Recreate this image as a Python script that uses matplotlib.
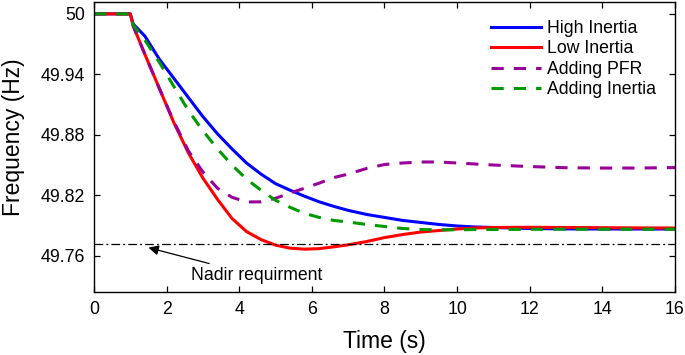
import matplotlib
matplotlib.use("Agg")
from matplotlib import pyplot as plt

plt.rcParams['font.family'] = ['Liberation Sans', 'DejaVu Sans']

# time (s)
t = [0, 1.0, 1.08, 1.4, 1.8, 2.2, 2.6, 3.0, 3.4, 3.8, 4.2, 4.6, 5.0, 5.4, 5.8, 6.2,
     6.6, 7.0, 7.5, 8.0, 8.5, 9.0, 9.5, 10.0, 10.5, 11.0, 12.0, 13.0, 14.0, 15.0, 16.0]

# frequency (Hz)
high_inertia = [50.0, 50.0, 49.990, 49.978, 49.955, 49.936, 49.917, 49.898, 49.881, 49.866,
                49.852, 49.841, 49.8315, 49.825, 49.819, 49.8135, 49.809, 49.805, 49.801,
                49.798, 49.795, 49.793, 49.791, 49.7895, 49.7885, 49.788, 49.787, 49.7866,
                49.7865, 49.7865, 49.7865]
low_inertia = [50.0, 50.0, 49.988, 49.960, 49.926, 49.892, 49.862, 49.837, 49.816, 49.797,
               49.784, 49.776, 49.7705, 49.7675, 49.7665, 49.767, 49.7688, 49.7708, 49.774,
               49.778, 49.781, 49.7835, 49.785, 49.7865, 49.7875, 49.788, 49.7882, 49.788,
               49.7878, 49.7876, 49.7875]
adding_pfr = [50.0, 50.0, 49.988, 49.960, 49.926, 49.893, 49.864, 49.843, 49.827, 49.818,
              49.8133, 49.8135, 49.817, 49.8222, 49.827, 49.832, 49.8375, 49.841, 49.8465,
              49.8505, 49.852, 49.853, 49.853, 49.852, 49.851, 49.850, 49.8485, 49.8473,
              49.847, 49.847, 49.8475]
adding_inertia = [50.0, 50.0, 49.989, 49.974, 49.952, 49.928, 49.904, 49.884, 49.866, 49.850,
                  49.836, 49.825, 49.815, 49.808, 49.802, 49.798, 49.795, 49.7935, 49.791,
                  49.789, 49.787, 49.786, 49.7857, 49.7857, 49.786, 49.786, 49.7862, 49.7863,
                  49.7863, 49.7863, 49.7863]

nadir = 49.772
xticks = [0, 2, 4, 6, 8, 10, 12, 14, 16]
yticks = [49.76, 49.82, 49.88, 49.94, 50.0]
ytick_labels = ['49.76', '49.82', '49.88', '49.94', '50']

fig = plt.figure(figsize=(6.85, 3.55), dpi=100)
ax = fig.add_axes([0.1372, 0.1775, 0.8482, 0.8175])

ax.plot(t, high_inertia, color='#0000ff', lw=2.2, label='High Inertia')
ax.plot(t, low_inertia, color='#ff0000', lw=2.2, label='Low Inertia')
ax.plot(t, adding_pfr, color='#990099', lw=2.2, ls=(0, (4.0, 3.3)), label='Adding PFR')
ax.plot(t, adding_inertia, color='#009900', lw=2.2, ls=(0, (4.0, 3.3)), label='Adding Inertia')
ax.axhline(nadir, color='black', lw=0.9, ls=(0, (7, 2.5, 1.5, 2.5)))

ax.annotate('Nadir requirment', xy=(1.5, 49.768), xytext=(2.66, 49.740),
            fontsize=12.7, ha='left', va='center',
            arrowprops=dict(arrowstyle='-|>', color='black', lw=0.9,
                            shrinkA=3, shrinkB=0, mutation_scale=15))

ax.set_xlim(0, 16)
ax.set_ylim(49.724, 50.012)
ax.set_xticks(xticks)
ax.set_yticks(yticks)
ax.set_yticklabels(ytick_labels)
ax.tick_params(direction='in', top=True, right=True, length=4.3, width=0.9,
               labelsize=12.8, pad=6.5)
for s in ax.spines.values():
    s.set_linewidth(1.0)

ax.set_xlabel('Time (s)', fontsize=16.5)
ax.set_ylabel('Frequency (Hz)', fontsize=16.5)
ax.xaxis.set_label_coords(0.5, -0.131)
ax.yaxis.set_label_coords(-0.119, 0.534)

ax.legend(loc='upper left', bbox_to_anchor=(0.684, 0.938), frameon=False,
          fontsize=12.7, handlelength=2.8, handletextpad=0.38, labelspacing=0.2,
          borderpad=0, borderaxespad=0)

plt.savefig('out.png', dpi=100)
